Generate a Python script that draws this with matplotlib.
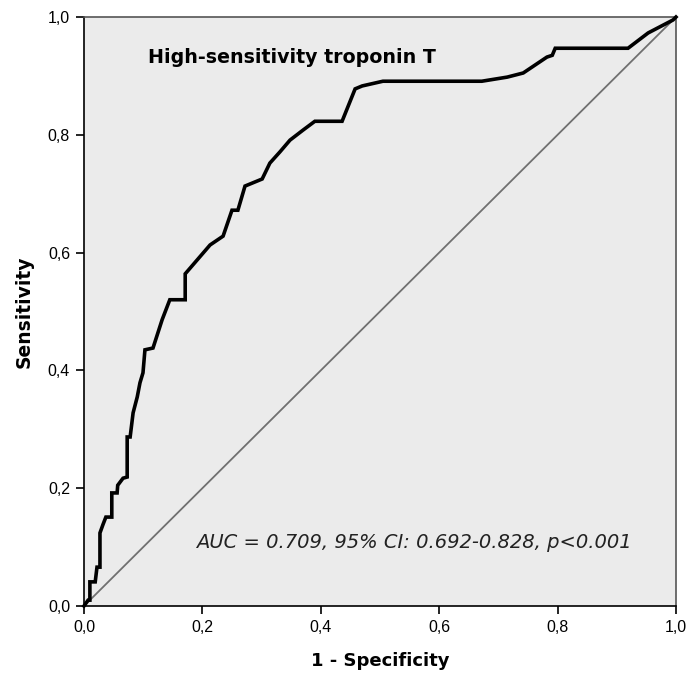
import matplotlib
matplotlib.use("Agg")
import matplotlib.pyplot as plt

fpr = [0.0, 0.007, 0.010, 0.010, 0.019, 0.022, 0.027, 0.027, 0.032, 0.037, 0.047, 0.047,
       0.056, 0.057, 0.066, 0.073, 0.073, 0.078, 0.083, 0.090, 0.0946, 0.0997, 0.103,
       0.1166, 0.132, 0.145, 0.171, 0.171, 0.213, 0.235, 0.25, 0.26, 0.272, 0.301, 0.314,
       0.331, 0.348, 0.370, 0.390, 0.436, 0.458, 0.470, 0.505, 0.672, 0.715, 0.742,
       0.782, 0.791, 0.796, 0.919, 0.953, 0.995, 1.0]
tpr = [0.0, 0.010, 0.010, 0.041, 0.041, 0.066, 0.066, 0.124, 0.138, 0.151, 0.151, 0.192,
       0.192, 0.205, 0.217, 0.219, 0.287, 0.287, 0.328, 0.355, 0.379, 0.396, 0.435,
       0.438, 0.486, 0.520, 0.520, 0.564, 0.613, 0.628, 0.672, 0.672, 0.713, 0.725, 0.752,
       0.771, 0.791, 0.808, 0.823, 0.823, 0.878, 0.883, 0.891, 0.891, 0.898, 0.905,
       0.932, 0.935, 0.947, 0.947, 0.973, 0.995, 1.0]
ref_line = [0.0, 1.0]
ticks = [0.0, 0.2, 0.4, 0.6, 0.8, 1.0]
tick_labels = ["0,0", "0,2", "0,4", "0,6", "0,8", "1,0"]
title_text = "High-sensitivity troponin T"
auc_text = "AUC = 0.709, 95% CI: 0.692-0.828, p<0.001"

fig = plt.figure(figsize=(6.86, 6.81), dpi=100)
ax = fig.add_axes([0.1224, 0.1101, 0.8630, 0.8649])
ax.set_facecolor("#ebebeb")
ax.plot(ref_line, ref_line, color="#707070", lw=1.3, zorder=2)
ax.plot(fpr, tpr, color="black", lw=2.6, solid_joinstyle="miter", zorder=3, clip_on=False)
ax.set_xlim(0, 1)
ax.set_ylim(0, 1)
ax.set_xticks(ticks)
ax.set_xticklabels(tick_labels, family="Liberation Sans", fontsize=11.5)
ax.set_yticks(ticks)
ax.set_yticklabels(tick_labels, family="Liberation Sans", fontsize=11.5)
ax.tick_params(direction="out", length=6, width=1.2, colors="black", pad=4)
for s in ax.spines.values():
    s.set_linewidth(1.2)
    s.set_color("black")
ax.spines["top"].set_color("#555555")
ax.spines["right"].set_color("#555555")
ax.set_xlabel("1 - Specificity", fontsize=13, fontweight="bold", labelpad=12)
ax.set_ylabel("Sensitivity", fontsize=13.5, fontweight="bold", labelpad=10)
ax.text(0.108, 0.932, title_text, transform=ax.transAxes, fontsize=13.7, fontweight="bold",
        va="center", ha="left")
ax.text(0.189, 0.107, auc_text, transform=ax.transAxes, fontsize=14, style="italic",
        va="center", ha="left", color="#222222")
fig.savefig("out.png", dpi=100)
